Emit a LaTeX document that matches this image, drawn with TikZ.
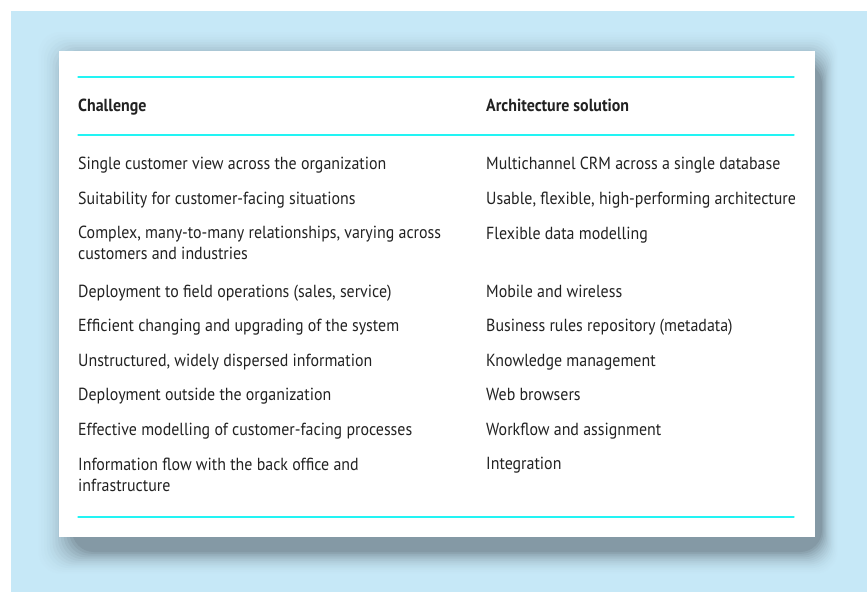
\documentclass[tikz,border=0pt]{standalone}
\usepackage{fontspec}
\setmainfont[FakeStretch=0.91]{PT Sans}
\definecolor{bgblue}{HTML}{C6E8F7}
\definecolor{shadowgray}{HTML}{8499A5}
\definecolor{rulecyan}{HTML}{22F4F4}
\definecolor{textgray}{HTML}{222222}
\begin{document}
\begin{tikzpicture}[x=1pt, y=-1pt, line cap=round, line join=round,
	cell/.style={anchor=base west, inner sep=0pt, text=textgray, align=left, font=\fontsize{17.5}{21}\selectfont},
	head/.style={cell, font=\fontsize{17.5}{21}\selectfont\bfseries},
	rule/.style={rulecyan, line width=1.3pt}]
			\def\xmin{0};\def\xmax{867};\def\ymin{0};\def\ymax{592};
			\useasboundingbox (\xmin,\ymin) rectangle (\xmax,\ymax);
			\fill[white] (\xmin,\ymin) rectangle (\xmax,\ymax);
			\fill[bgblue] (11,11) rectangle (\xmax,\ymax);
			% soft shadow behind the panel
			\foreach \i in {0,...,14}{
				\pgfmathsetmacro{\l}{33+\i*39/14}
				\pgfmathsetmacro{\t}{27+\i*35/14}
				\pgfmathsetmacro{\r}{840-\i*18/14}
				\pgfmathsetmacro{\b}{577-\i*25/14}
				\pgfmathsetmacro{\p}{(\i/14)^2*100}
				\fill[shadowgray!\p!bgblue, rounded corners=22pt] (\l,\t) rectangle (\r,\b);
			}
			\fill[white] (59,51) rectangle (815,537);
			\draw[rule] (78,77)--(794,77) (78,135)--(794,135) (78,517)--(794,517);
			\node[head] (chal) at (78,111) {Challenge};
			\node[head] (arch) at (486,111) {Architecture solution};
			\node[cell] (c1) at (78,169) {Single customer view across the organization};
			\node[cell] (c2) at (78,204) {Suitability for customer-facing situations};
			\node[cell] (c3) at (78,259) {Complex, many-to-many relationships, varying across\\customers and industries};
			\node[cell] (c4) at (78,297) {Deployment to field operations (sales, service)};
			\node[cell] (c5) at (78,331) {Efficient changing and upgrading of the system};
			\node[cell] (c6) at (78,366) {Unstructured, widely dispersed information};
			\node[cell] (c7) at (78,400) {Deployment outside the organization};
			\node[cell] (c8) at (78,435) {Effective modelling of customer-facing processes};
			\node[cell] (c9) at (78,491) {Information flow with the back office and\\infrastructure};
			\node[cell] (s1) at (486,169) {Multichannel CRM across a single database};
			\node[cell] (s2) at (486,204) {Usable, flexible, high-performing architecture};
			\node[cell] (s3) at (486,239) {Flexible data modelling};
			\node[cell] (s4) at (486,297) {Mobile and wireless};
			\node[cell] (s5) at (486,331) {Business rules repository (metadata)};
			\node[cell] (s6) at (486,366) {Knowledge management};
			\node[cell] (s7) at (486,400) {Web browsers};
			\node[cell] (s8) at (486,435) {Workflow and assignment};
			\node[cell] (s9) at (486,469) {Integration};
\end{tikzpicture}
\end{document}
